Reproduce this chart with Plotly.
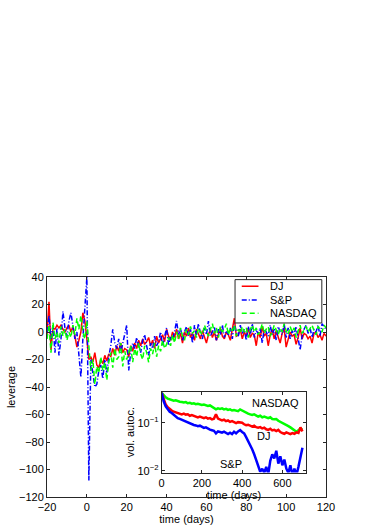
import math
import plotly.graph_objects as go

# ---------------- main panel data (daily, day -20 .. 120) ----------------
days = list(range(-20, 121))

dj = [
    -2, 22, -13, 3, 2, 5, 3, 5, 2, 0,
    3, 5, 0, 4, -3, -11, -6, 0, 14, 8,
    -5,
    -20, -18, -22, -15, -24, -26, -20, -23, -17, -21,
    -16, -18, -12, -17, -10, -14, -8, -15, -12, -13,
    -18, -10, -14, -8, -12, -6, -10, -5, -9, -7,
    -4, -10, -6, -12, -3, -8, -5, -2, -7, 2,
    -3, -6, 0, -4, 2, -5, -1, -8, 0, -3,
    3, -4, -1, -6, 2, -2, -5, 1, -3, -8,
    -2, 2, -4, 0, -6, -1, 3, -3, -5, 0,
    -2, -6, 1, 10, -3, -2, 2, -5, 0, -3,
    3, -4, -1, -2, -10, 0, -4, 4, -3, -1,
    -10, -2, 2, -5, 1, -4, -8, -1, 3, -11,
    -6, 0, -3, -2, -9, -4, 3, -5, -1, -2,
    -5, -3, -8, -1, 0, -4, -2, -6, -1, -3,
]

sp = [
    0, 12, -5, 5, -15, 3, -17, -5, 15, 3,
    -3, 8, 14, 5, -5, 0, -20, -33, -5, 15,
    40,
    -108, -20, -30, -40, -38, -28, -24, -34, -20, -30,
    -18, -10, 2, -8, -12, -5, -15, -8, -3, 5,
    -28, -15, -8, -12, -4, -10, -15, -6, -2, -10,
    -17, -8, -12, -3, -10, -7, 0, -10, -2, 3,
    -10, -3, -5, 0, 8, -2, 3, -6, 0, 4,
    -3, 2, -8, 5, -2, 6, -1, -5, 3, -2,
    8, -3, 0, 4, -6, 2, -2, 5, -4, 1,
    -2, 3, -5, 6, 0, -3, 5, -1, 2, -6,
    4, -2, 6, -4, 1, -1, 3, -8, 2, 0,
    -3, 5, -2, 2, -6, 4, 0, -2, 6, -4,
    3, -5, 1, -2, 4, -6, -13, -3, 2, 5,
    -1, 3, -4, 2, 0, 5, -3, 6, 4, 2,
]

nasdaq = [
    -5, 5, -15, 7, -5, 0, -8, 4, -3, 2,
    -6, 0, -4, 5, -2, 10, 2, 12, 0, -5,
    8,
    -10, -28, -20, -38, -25, -30, -18, -28, -22, -35,
    -22, -15, -26, -12, -20, -18, -8, -25, -14, -20,
    -15, -10, -22, -12, -18, -8, -16, -20, -10, -15,
    -22, -12, -16, -8, -18, -10, -14, -6, -12, -9,
    -4, -10, -2, -8, 0, -5, 3, -3, -6, 2,
    -2, 4, -1, 1, -4, 3, 0, -2, 5, 1,
    -3, 2, 6, -1, 3, -4, 4, 0, 2, 6,
    -2, 3, 1, 5, -3, 2, -1, 4, 0, 3,
    -4, 2, 5, 0, 3, -2, 1, 6, -1, 2,
    4, -3, 0, 5, 2, -2, 3, 0, 6, 1,
    -2, 4, 0, 3, -4, 1, 5, -1, 2, 4,
    0, 3, 5, 1, -2, 4, 2, 0, 5, 3,
]

main_xticks = [-20, 0, 20, 40, 60, 80, 100, 120]
main_yticks = [-120, -100, -80, -60, -40, -20, 0, 20, 40]

# ---------------- inset data (every 10 days, 0 .. 700) ----------------
lag = list(range(0, 701, 10))

nasdaq_ac = [
    0.42, 0.37, 0.34, 0.32, 0.31, 0.30, 0.29, 0.295, 0.28, 0.275,
    0.27, 0.265, 0.27, 0.255, 0.26, 0.25, 0.255, 0.245, 0.25, 0.24,
    0.235, 0.24, 0.23, 0.225, 0.23, 0.215, 0.205, 0.19, 0.20, 0.195,
    0.20, 0.19, 0.195, 0.185, 0.19, 0.18, 0.185, 0.18, 0.175, 0.19,
    0.18, 0.17, 0.16, 0.155, 0.15, 0.145, 0.15, 0.14, 0.135, 0.14,
    0.13, 0.135, 0.128, 0.125, 0.13, 0.12, 0.118, 0.12, 0.11, 0.105,
    0.10, 0.095, 0.09, 0.085, 0.08, 0.075, 0.07, 0.065, 0.07, 0.075, 0.072,
]

dj_ac = [
    0.42, 0.30, 0.24, 0.21, 0.19, 0.18, 0.17, 0.165, 0.16, 0.155,
    0.15, 0.155, 0.148, 0.15, 0.14, 0.145, 0.138, 0.135, 0.13, 0.135,
    0.13, 0.125, 0.13, 0.122, 0.125, 0.118, 0.122, 0.15, 0.122, 0.118,
    0.112, 0.116, 0.108, 0.112, 0.104, 0.108, 0.102, 0.098, 0.103, 0.1,
    0.1, 0.093, 0.089, 0.091, 0.086, 0.083, 0.087, 0.081, 0.079, 0.081,
    0.076, 0.079, 0.073, 0.071, 0.075, 0.069, 0.071, 0.067, 0.071, 0.064,
    0.061, 0.059, 0.063, 0.061, 0.058, 0.061, 0.059, 0.063, 0.061, 0.08, 0.066,
]

sp_ac = [
    0.42, 0.28, 0.22, 0.19, 0.17, 0.16, 0.145, 0.135, 0.125, 0.12,
    0.115, 0.11, 0.105, 0.10, 0.098, 0.095, 0.09, 0.088, 0.085, 0.087,
    0.082, 0.078, 0.08, 0.075, 0.072, 0.07, 0.068, 0.06, 0.066, 0.064,
    0.062, 0.065, 0.06, 0.058, 0.062, 0.058, 0.065, 0.06, 0.066, 0.07,
    0.064, 0.06, 0.05, 0.042, 0.035, 0.028, 0.022, 0.016, 0.012, 0.0095,
    0.011, 0.009, 0.012, 0.0085, 0.016, 0.022, 0.018, 0.026, 0.014, 0.02,
    0.013, 0.017, 0.011, 0.009, 0.013, 0.008, 0.011, 0.008, 0.012, 0.02, 0.03,
]

inset_xticks = [0, 200, 400, 600]
inset_yticks = [0.01, 0.1]
inset_yticktext = ["10<sup>\u22122</sup>", "10<sup>\u22121</sup>"]

series_names = ["DJ", "S&P", "NASDAQ"]
# inset curve labels: (lag, autocorrelation value) where each name sits
inset_label_pos = [(505, 0.052), (345, 0.0135), (565, 0.255)]

RED, BLUE, GREEN = "#ff0000", "#0000ff", "#00ff00"
COLORS = [RED, BLUE, GREEN]
DASHES = ["solid", "5px,2px,1px,2px", "5px,3px"]
FONT = "Liberation Sans, Arial, sans-serif"
AX = "#262626"

fig = go.Figure()

# main panel
for name, ys, col, dash in zip(series_names, [dj, sp, nasdaq], COLORS, DASHES):
    fig.add_trace(go.Scatter(x=days, y=ys, mode="lines", name=name, showlegend=False,
                             line=dict(color=col, width=1.5, dash=dash)))

# inset
for ys, col in [(nasdaq_ac, GREEN), (dj_ac, RED), (sp_ac, BLUE)]:
    fig.add_trace(go.Scatter(x=lag, y=ys, mode="lines", showlegend=False,
                             line=dict(color=col, width=2.5), xaxis="x2", yaxis="y2"))

axis_common = dict(showline=True, linecolor=AX, linewidth=1, mirror="ticks",
                   ticks="inside", ticklen=3, tickcolor=AX, showgrid=False,
                   zeroline=False, automargin=False,
                   tickfont=dict(family=FONT, size=11, color="#000"))

# hand-drawn legend box (MATLAB style), in paper coordinates of the main axes
LEG_X0, LEG_X1, LEG_Y0, LEG_Y1 = 0.674, 0.985, 0.791, 0.988
LEG_ROWS = [0.958, 0.8955, 0.835]
SAMPLE_X0, SAMPLE_X1, TEXT_X = 0.698, 0.758, 0.791

shapes = [dict(type="rect", xref="paper", yref="paper", x0=LEG_X0, x1=LEG_X1,
               y0=LEG_Y0, y1=LEG_Y1, fillcolor="white",
               line=dict(color=AX, width=1), layer="above")]
annotations = []
for name, col, dash, ry in zip(series_names, COLORS, DASHES, LEG_ROWS):
    shapes.append(dict(type="line", xref="paper", yref="paper", x0=SAMPLE_X0,
                       x1=SAMPLE_X1, y0=ry, y1=ry,
                       line=dict(color=col, width=1.5, dash=dash), layer="above"))
    annotations.append(dict(text=name, x=TEXT_X, y=ry, xref="paper", yref="paper",
                            xanchor="left", yanchor="middle", showarrow=False,
                            font=dict(size=11, family=FONT, color="#000")))

for name, (lx, ly) in zip(series_names, inset_label_pos):
    annotations.append(dict(text=name, x=lx, y=math.log10(ly), xref="x2", yref="y2",
                            xanchor="center", yanchor="middle", showarrow=False,
                            font=dict(size=11, family=FONT, color="#000")))

fig.update_layout(
    width=372, height=527,
    margin=dict(l=47, r=46, t=277, b=30),
    paper_bgcolor="white", plot_bgcolor="white",
    font=dict(family=FONT, size=11, color="#000"),
    showlegend=False,
    xaxis=dict(range=[-20, 120], tickvals=main_xticks, domain=[0, 1],
               title=dict(text="time (days)", standoff=1, font=dict(size=11)),
               **axis_common),
    yaxis=dict(range=[-120, 40], tickvals=main_yticks, domain=[0, 1],
               title=dict(text="leverage", standoff=1, font=dict(size=11)),
               **axis_common),
    xaxis2=dict(range=[0, 720], tickvals=inset_xticks, domain=[0.411, 0.930],
                anchor="y2",
                title=dict(text="time (days)", standoff=0, font=dict(size=11)),
                **axis_common),
    yaxis2=dict(type="log", range=[-2.04, -0.35], tickvals=inset_yticks,
                ticktext=inset_yticktext, domain=[0.111, 0.479], anchor="x2",
                title=dict(text="vol. autoc.", standoff=0, font=dict(size=11)),
                **axis_common),
    shapes=shapes,
    annotations=annotations,
)

fig.write_html("out.html", config={"displayModeBar": False},
               post_script="document.body.style.margin='0';")
